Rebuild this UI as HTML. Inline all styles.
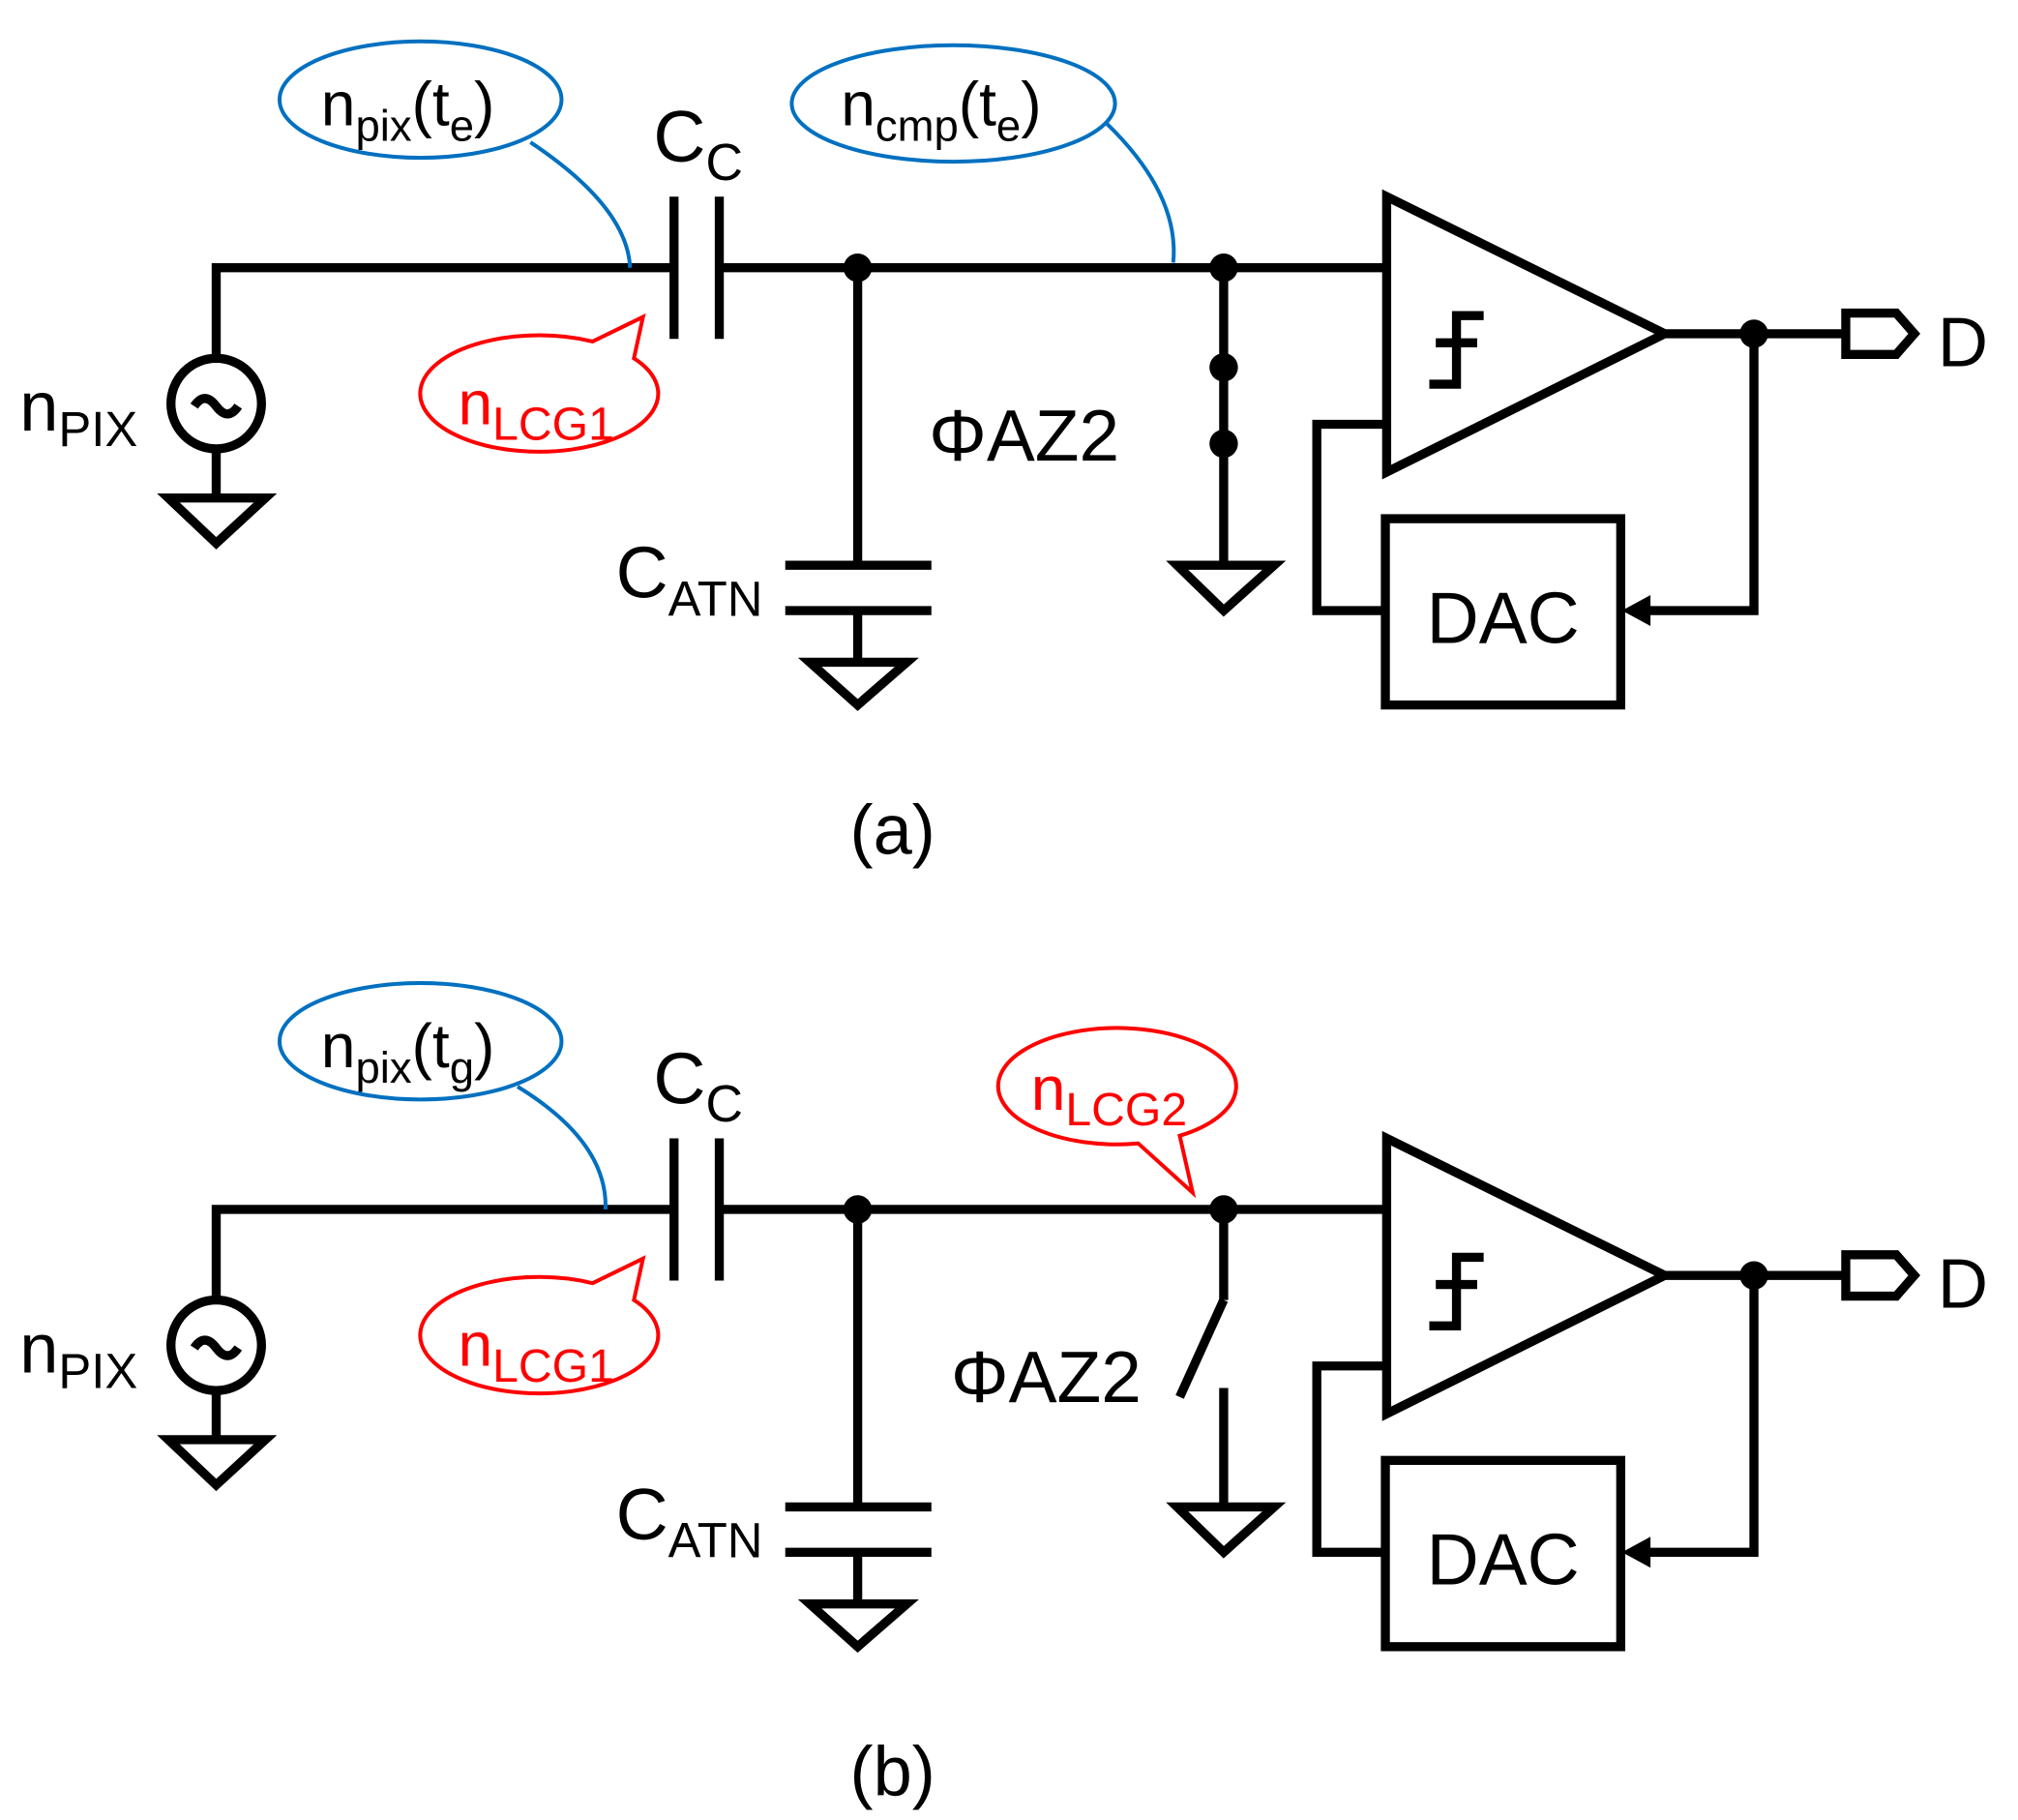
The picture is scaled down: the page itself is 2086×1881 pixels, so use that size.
<!DOCTYPE html>
<html><head><meta charset="utf-8"><style>
html,body{margin:0;padding:0;background:#fff}
svg{display:block}
text{font-family:"Liberation Sans","DejaVu Sans",sans-serif}
</style></head><body>
<svg width="2086" height="1881" viewBox="0 0 1560 1407" xmlns="http://www.w3.org/2000/svg">
<defs>
<g id="panel">
 <g fill="none" stroke="#000" stroke-width="7">
  <polyline points="167,277 167,207 521,207"/>
  <line x1="521" y1="152" x2="521" y2="262"/>
  <line x1="556" y1="152" x2="556" y2="262"/>
  <line x1="556" y1="207" x2="1072" y2="207"/>
  <circle cx="167" cy="312" r="35"/>
  <path d="M150,314 q8,-12 17,0 q9,12 17,0"/>
  <line x1="167" y1="347" x2="167" y2="385"/>
  <polygon points="130,385 205,385 167,420"/>
  <line x1="663" y1="207" x2="663" y2="437"/>
  <line x1="607" y1="437" x2="720" y2="437"/>
  <line x1="607" y1="472" x2="720" y2="472"/>
  <line x1="663" y1="472" x2="663" y2="512"/>
  <polygon points="626,512 701,512 663,545"/>
  <polygon points="1072,152 1072,365 1287,258"/>
  <polyline points="1105,297 1126,297 1126,244 1147,244"/>
  <line x1="1110" y1="265" x2="1142" y2="265"/>
  <line x1="1287" y1="258" x2="1425" y2="258"/>
  <polygon points="1427,242 1466,242 1480,258 1466,274 1427,274"/>
  <polyline points="1356,258 1356,472 1262,472"/>
  <rect x="1071" y="401" width="182" height="144"/>
  <polyline points="1071,472 1018,472 1018,328 1072,328"/>
  <polygon points="910,437 985,437 946,472"/>
 </g>
 <polygon points="1254,472 1276,460 1276,484" fill="#000"/>
 <circle cx="663" cy="207" r="11"/>
 <circle cx="946" cy="207" r="11"/>
 <circle cx="1356" cy="258" r="11"/>
 <text x="15" y="333" font-size="54">n<tspan font-size="38" dy="12">PIX</tspan></text>
 <text x="505" y="125" font-size="56">C<tspan font-size="40" dy="14">C</tspan></text>
 <text x="476" y="462" font-size="56">C<tspan font-size="38" dy="14">ATN</tspan></text>
 <text x="1498" y="283" font-size="54">D</text>
 <text x="1162" y="497" font-size="56" text-anchor="middle">DAC</text>
 <g fill="none" stroke="#0070c0" stroke-width="3">
  <ellipse cx="325" cy="77" rx="109" ry="45"/>
 </g>
 <path d="M458,264 L497,245 L490,277 A92,45 0 1 1 458,264 Z" fill="#fff" stroke="#ff0000" stroke-width="3"/>
 <text x="354" y="328" font-size="48" fill="#ff0000">n<tspan font-size="36" dy="12">LCG1</tspan></text>
</g>
</defs>

<use href="#panel"/>
<g fill="none" stroke="#000" stroke-width="7">
 <line x1="946" y1="207" x2="946" y2="437"/>
</g>
<circle cx="946" cy="284" r="11"/>
<circle cx="946" cy="343" r="11"/>
<text x="718" y="356" font-size="56">ΦAZ2</text>
<text x="248" y="97" font-size="48">n<tspan font-size="34" dy="12">pix</tspan><tspan dy="-12">(t</tspan><tspan font-size="34" dy="12">e</tspan><tspan dy="-12">)</tspan></text>
<g fill="none" stroke="#0070c0" stroke-width="3">
 <path d="M410,110 Q485,160 487,207"/>
 <ellipse cx="737" cy="80" rx="125" ry="45"/>
 <path d="M855,95 Q912,150 907,203"/>
</g>
<text x="650" y="97" font-size="48">n<tspan font-size="34" dy="12">cmp</tspan><tspan dy="-12">(t</tspan><tspan font-size="34" dy="12">e</tspan><tspan dy="-12">)</tspan></text>
<text x="690" y="660" font-size="54" text-anchor="middle">(a)</text>

<g transform="translate(0,728)">
 <use href="#panel"/>
 <g fill="none" stroke="#000" stroke-width="7">
  <line x1="946" y1="207" x2="946" y2="277"/>
  <line x1="946" y1="277" x2="912" y2="352"/>
  <line x1="946" y1="345" x2="946" y2="437"/>
 </g>
 <text x="735" y="356" font-size="56">ΦAZ2</text>
 <text x="248" y="97" font-size="48">n<tspan font-size="34" dy="12">pix</tspan><tspan dy="-12">(t</tspan><tspan font-size="34" dy="12">g</tspan><tspan dy="-12">)</tspan></text>
 <g fill="none" stroke="#0070c0" stroke-width="3">
  <path d="M400,112 Q470,155 468,207"/>
 </g>
 <path d="M880,156 L922,194 L912,150 A92,45 0 1 0 880,156 Z" fill="#fff" stroke="#ff0000" stroke-width="3"/>
 <text x="797" y="130" font-size="48" fill="#ff0000">n<tspan font-size="36" dy="12">LCG2</tspan></text>
 <text x="690" y="660" font-size="54" text-anchor="middle">(b)</text>
</g>
</svg>
</body></html>
